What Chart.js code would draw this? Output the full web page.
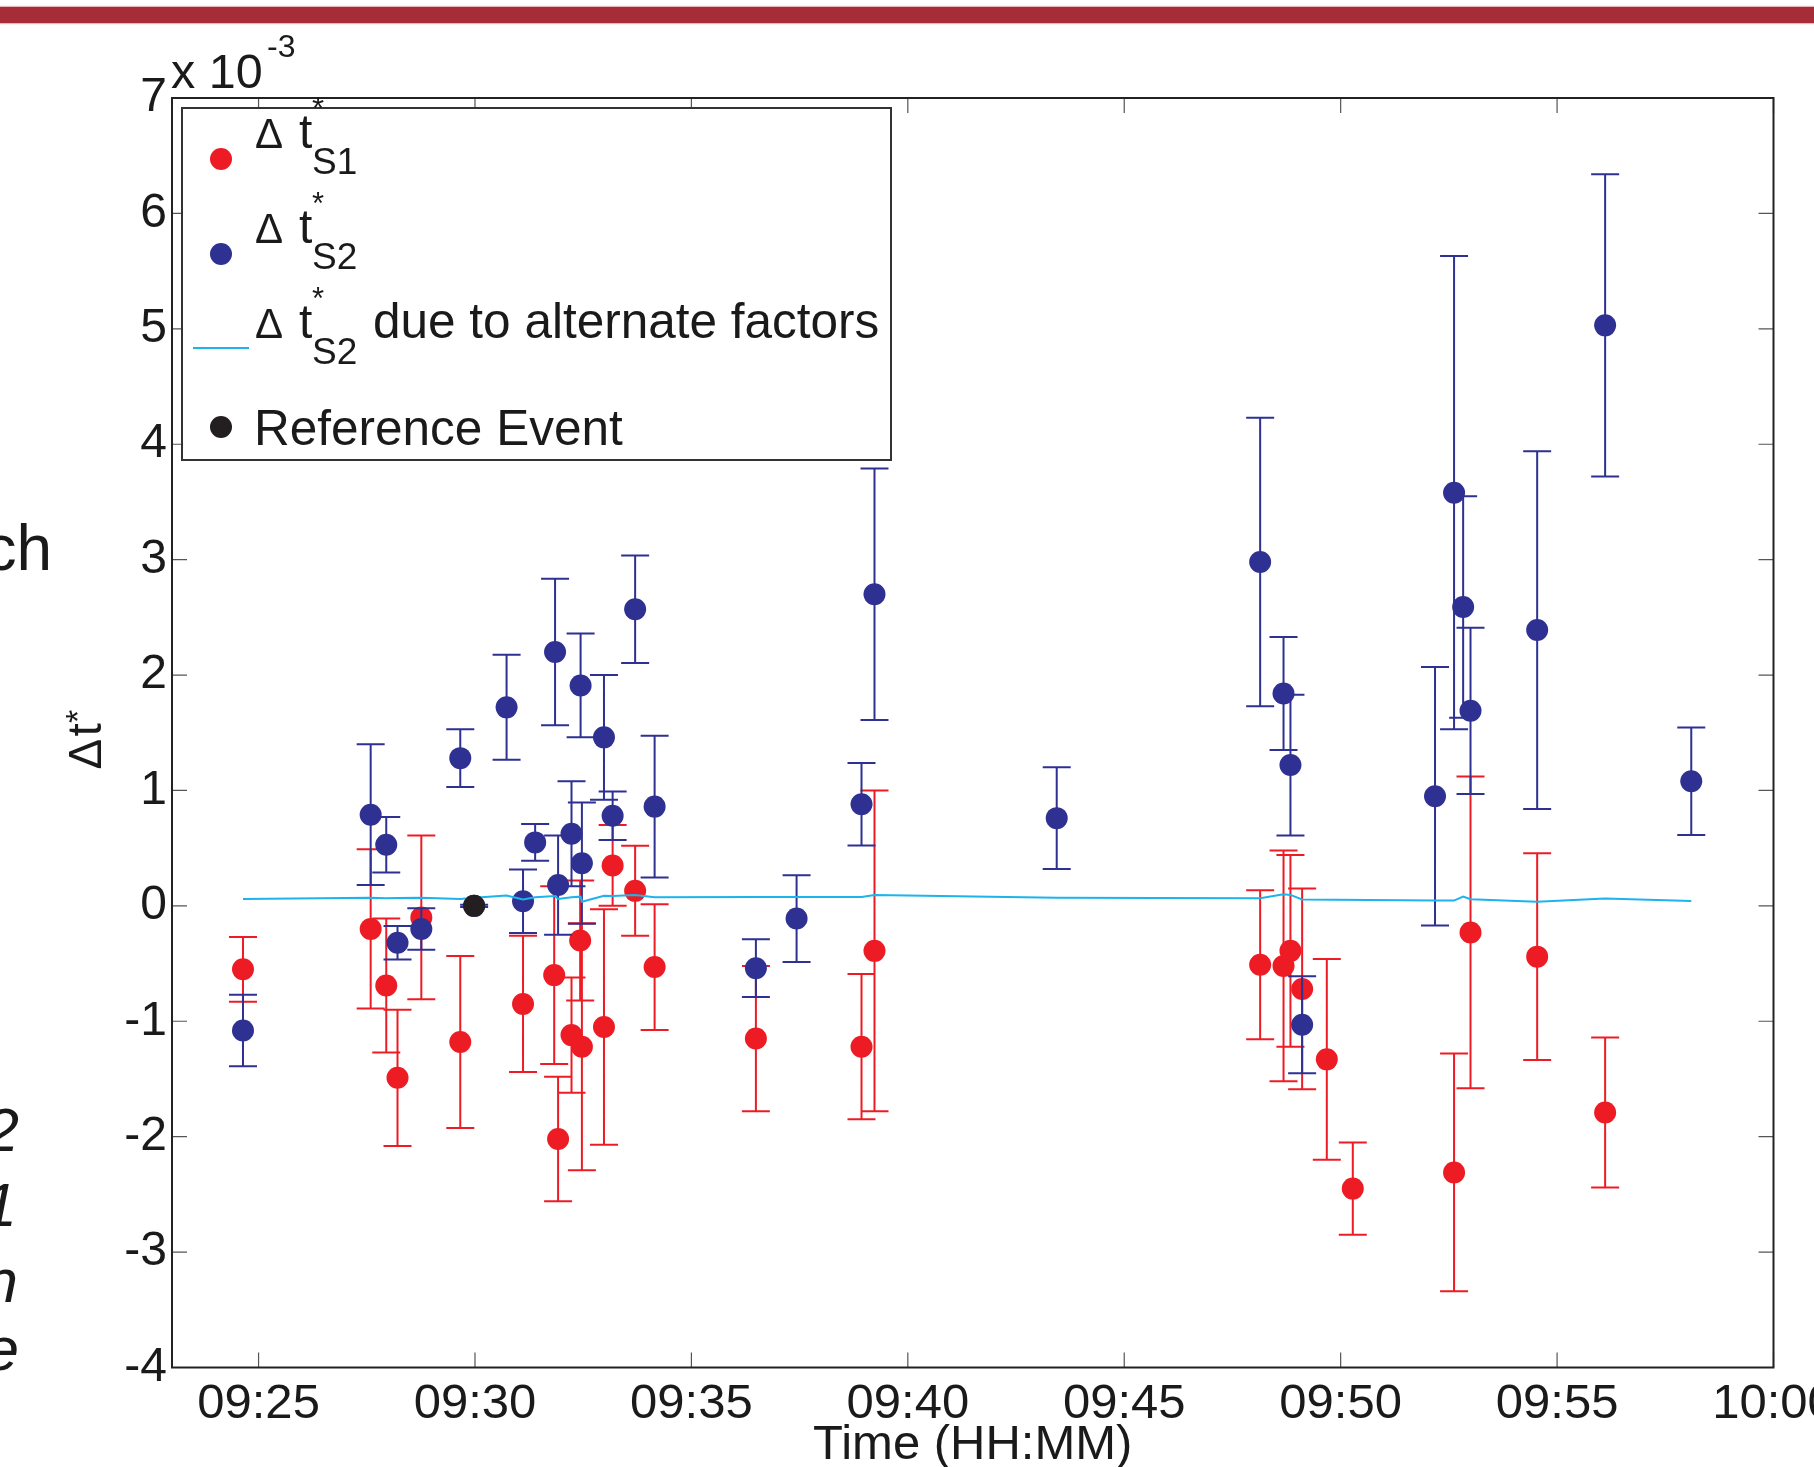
<!DOCTYPE html>
<html>
<head>
<meta charset="utf-8">
<script src="https://cdn.jsdelivr.net/npm/chart.js@4.4.1/dist/chart.umd.min.js"></script>
<style>
html,body{margin:0;padding:0;background:#fff;overflow:hidden;}
#wrap{position:relative;width:1814px;height:1467px;overflow:hidden;}
#c{position:absolute;left:0;top:0;}
#topbar{position:absolute;left:0;top:7px;width:1814px;height:16px;background:#A62D38;box-shadow:0 1px 1px #e8b7bb,0 -1px 1px #e8b7bb;}
.frag{position:absolute;font-family:'Liberation Sans',Arial,sans-serif;color:#1a1a1a;white-space:nowrap;line-height:1;}
.it{font-style:italic;font-size:62px;}
</style>
</head>
<body>
<div id="wrap">
<canvas id="c" width="1814" height="1467"></canvas>
<div id="topbar"></div>
<div class="frag" style="font-size:64px;right:1762px;top:516px;">ch</div>
<div class="frag it" style="right:1795px;top:1099px;">2</div>
<div class="frag it" style="right:1797px;top:1174px;">1</div>
<div class="frag it" style="right:1796px;top:1250px;">n</div>
<div class="frag it" style="right:1795px;top:1318px;">e</div>
</div>
<script>
// ---- data (time in minutes after 09:00, values in units of 1e-3) ----
const xTickValues = [25, 30, 35, 40, 45, 50, 55, 60];
const yTickValues = [-4, -3, -2, -1, 0, 1, 2, 3, 4, 5, 6, 7];

const s1Times  = [24.64, 27.59, 27.95, 28.21, 28.76, 29.66, 31.11, 31.83, 31.92, 32.23, 32.43, 32.47, 32.98, 33.18, 33.70, 34.15, 36.49, 38.93, 39.23, 48.14, 48.68, 48.84, 49.11, 49.68, 50.28, 52.62, 53.00, 54.54, 56.11];
const s1Values = [-0.55, -0.20, -0.69, -1.49, -0.10, -1.18, -0.85, -0.60, -2.02, -1.12, -0.30, -1.22, -1.05, 0.35, 0.13, -0.53, -1.15, -1.22, -0.39, -0.51, -0.52, -0.39, -0.72, -1.33, -2.45, -2.31, -0.23, -0.44, -1.79];
const s1Errors = [0.28, 0.69, 0.58, 0.59, 0.71, 0.745, 0.59, 0.77, 0.54, 0.50, 0.52, 1.07, 1.02, 0.35, 0.39, 0.545, 0.63, 0.63, 1.39, 0.645, 1.0, 0.83, 0.87, 0.87, 0.40, 1.03, 1.35, 0.895, 0.65];

const s2Times  = [24.64, 27.59, 27.95, 28.21, 28.76, 29.66, 29.98, 30.73, 31.11, 31.39, 31.85, 31.92, 32.23, 32.44, 32.47, 32.98, 33.18, 33.70, 34.15, 36.49, 37.43, 38.93, 39.23, 43.44, 48.14, 48.68, 48.84, 49.11, 52.18, 52.62, 52.83, 53.00, 54.54, 56.11, 58.10];
const s2Values = [-1.08, 0.79, 0.53, -0.32, -0.20, 1.28, 0, 1.72, 0.04, 0.55, 2.20, 0.18, 0.625, 1.91, 0.37, 1.46, 0.78, 2.57, 0.86, -0.54, -0.11, 0.88, 2.70, 0.76, 2.98, 1.84, 1.22, -1.03, 0.95, 3.58, 2.59, 1.69, 2.39, 5.03, 1.08];
const s2Errors = [0.31, 0.61, 0.24, 0.145, 0.18, 0.25, 0.01, 0.455, 0.275, 0.16, 0.635, 0.43, 0.455, 0.45, 0.525, 0.54, 0.21, 0.465, 0.615, 0.25, 0.376, 0.357, 1.09, 0.44, 1.25, 0.49, 0.61, 0.42, 1.12, 2.05, 0.96, 0.72, 1.55, 1.31, 0.465];

const altTimes  = s2Times;
const altValues = [0.06, 0.07, 0.065, 0.068, 0.07, 0.06, 0.07, 0.09, 0.055, 0.075, 0.085, 0.06, 0.075, 0.08, 0.035, 0.088, 0.085, 0.095, 0.074, 0.077, 0.077, 0.077, 0.095, 0.07, 0.066, 0.10, 0.095, 0.055, 0.046, 0.046, 0.081, 0.058, 0.035, 0.064, 0.043];

const refTimes  = [29.98];
const refValues = [0];

// ---- styles ----
const RED = '#ED1C24', BLUE = '#2E3192', CYAN = '#1CB4EB', BLACK = '#231F20', TXT = '#1a1a1a';
const FONT = '"Liberation Sans", Arial, sans-serif';

function toPoints(xs, ys) { return xs.map((x, i) => ({x: x, y: ys[i]})); }
function fmtTime(m) {
  const t = 9 * 60 + m;
  const hh = Math.floor(t / 60), mm = Math.round(t - hh * 60);
  return String(hh).padStart(2, '0') + ':' + String(mm).padStart(2, '0');
}

const errorBars = {
  id: 'errorBars',
  beforeDatasetDraw(chart, args) {
    const ds = chart.data.datasets[args.index];
    if (!ds.errors) return;
    const {ctx, scales: {x, y}} = chart;
    ctx.save();
    ctx.strokeStyle = ds.errorColor;
    ctx.lineWidth = 2;
    ctx.beginPath();
    ds.data.forEach((p, i) => {
      const e = ds.errors[i];
      const px = x.getPixelForValue(p.x);
      const yHi = y.getPixelForValue(p.y + e);
      const yLo = y.getPixelForValue(p.y - e);
      ctx.moveTo(px, yHi); ctx.lineTo(px, yLo);
      ctx.moveTo(px - 14, yHi); ctx.lineTo(px + 14, yHi);
      ctx.moveTo(px - 14, yLo); ctx.lineTo(px + 14, yLo);
    });
    ctx.stroke();
    ctx.restore();
  }
};

const frame = {
  id: 'frame',
  afterDatasetsDraw(chart) {
    const {ctx, chartArea: a, scales: {x, y}} = chart;
    ctx.save();
    ctx.strokeStyle = '#555'; ctx.lineWidth = 1.2;
    ctx.beginPath();
    xTickValues.forEach(v => {
      const px = x.getPixelForValue(v);
      ctx.moveTo(px, a.bottom); ctx.lineTo(px, a.bottom - 15);
      ctx.moveTo(px, a.top); ctx.lineTo(px, a.top + 15);
    });
    yTickValues.forEach(v => {
      const py = y.getPixelForValue(v);
      ctx.moveTo(a.left, py); ctx.lineTo(a.left + 15, py);
      ctx.moveTo(a.right, py); ctx.lineTo(a.right - 15, py);
    });
    ctx.stroke();
    ctx.strokeStyle = '#222'; ctx.lineWidth = 2;
    ctx.strokeRect(a.left, a.top, a.right - a.left, a.bottom - a.top);
    ctx.restore();
  }
};

function txt(ctx, s, x, y, size, color) {
  ctx.font = size + 'px ' + FONT;
  ctx.fillStyle = color || TXT;
  ctx.fillText(s, x, y);
}

const annot = {
  id: 'annot',
  afterDraw(chart) {
    const ctx = chart.ctx;
    ctx.save();
    ctx.textBaseline = 'alphabetic';
    ctx.textAlign = 'left';
    // legend box
    ctx.fillStyle = '#fff';
    ctx.fillRect(182, 108, 709, 352);
    ctx.strokeStyle = '#333'; ctx.lineWidth = 2;
    ctx.strokeRect(182, 108, 709, 352);
    // markers
    const dot = (cx, cy, c) => { ctx.beginPath(); ctx.arc(cx, cy, 11, 0, Math.PI * 2); ctx.fillStyle = c; ctx.fill(); };
    dot(221, 159, RED);
    dot(221, 254, BLUE);
    ctx.strokeStyle = CYAN; ctx.lineWidth = 2;
    ctx.beginPath(); ctx.moveTo(193, 348); ctx.lineTo(249, 348); ctx.stroke();
    dot(221, 427, BLACK);
    // labels  Δ t*_S
    const dt = (base, sub) => {
      txt(ctx, 'Δ', 255, base, 42);
      txt(ctx, 't', 299, base, 48);
      txt(ctx, '*', 312, base - 29, 31);
      txt(ctx, sub, 312, base + 26, 37);
    };
    dt(148, 'S1');
    dt(243.3, 'S2');
    dt(338.3, 'S2');
    txt(ctx, 'due to alternate factors', 373, 338.3, 49.5);
    txt(ctx, 'Reference Event', 254, 445, 49.5);
    // exponent label
    txt(ctx, 'x 10', 171, 88.3, 48.5);
    txt(ctx, '-3', 267, 57.3, 32);
    // y axis title (rotated)  Δt*
    ctx.translate(101, 769.5);
    ctx.rotate(-Math.PI / 2);
    txt(ctx, 'Δ', 0, 0, 46);
    txt(ctx, 't', 33, 0, 48);
    txt(ctx, '*', 46.5, -12, 34);
    ctx.restore();
  }
};

new Chart(document.getElementById('c'), {
  type: 'scatter',
  data: {
    datasets: [
      {label: 'Reference Event', data: toPoints(refTimes, refValues), backgroundColor: BLACK, borderWidth: 0, pointRadius: 11, order: 0},
      {label: 'Δ t*S2 due to alternate factors', data: toPoints(altTimes, altValues), showLine: true, borderColor: CYAN, borderWidth: 2, pointRadius: 0, tension: 0, order: 1},
      {label: 'Δ t*S2', data: toPoints(s2Times, s2Values), errors: s2Errors, errorColor: BLUE, backgroundColor: BLUE, borderWidth: 0, pointRadius: 11, order: 2},
      {label: 'Δ t*S1', data: toPoints(s1Times, s1Values), errors: s1Errors, errorColor: RED, backgroundColor: RED, borderWidth: 0, pointRadius: 11, order: 3}
    ]
  },
  options: {
    responsive: false,
    animation: false,
    events: [],
    layout: {padding: {left: 0, top: 98, right: 40.5, bottom: 0}},
    plugins: {legend: {display: false}, tooltip: {enabled: false}, title: {display: false}},
    scales: {
      x: {
        type: 'linear', min: 23, max: 60,
        grid: {display: false, drawTicks: false},
        border: {display: false},
        afterBuildTicks: s => { s.ticks = xTickValues.map(v => ({value: v})); },
        afterFit: s => { s.height = 99.5; s.paddingLeft = 0; s.paddingRight = 0; },
        ticks: {autoSkip: false, maxRotation: 0, minRotation: 0, padding: 8, color: TXT,
                font: {family: FONT, size: 49}, callback: v => fmtTime(v)},
        title: {display: true, text: 'Time (HH:MM)', color: TXT,
                font: {family: FONT, size: 49, lineHeight: 1}, padding: {top: 0, bottom: -2.6}}
      },
      y: {
        type: 'linear', min: -4, max: 7,
        grid: {display: false, drawTicks: false},
        border: {display: false},
        afterBuildTicks: s => { s.ticks = yTickValues.map(v => ({value: v})); },
        afterFit: s => { s.width = 172; s.paddingTop = 0; s.paddingBottom = 0; },
        ticks: {autoSkip: false, padding: 5, color: TXT, font: {family: FONT, size: 48},
                callback: v => String(v)}
      }
    }
  },
  plugins: [errorBars, frame, annot]
});
</script>
</body>
</html>
